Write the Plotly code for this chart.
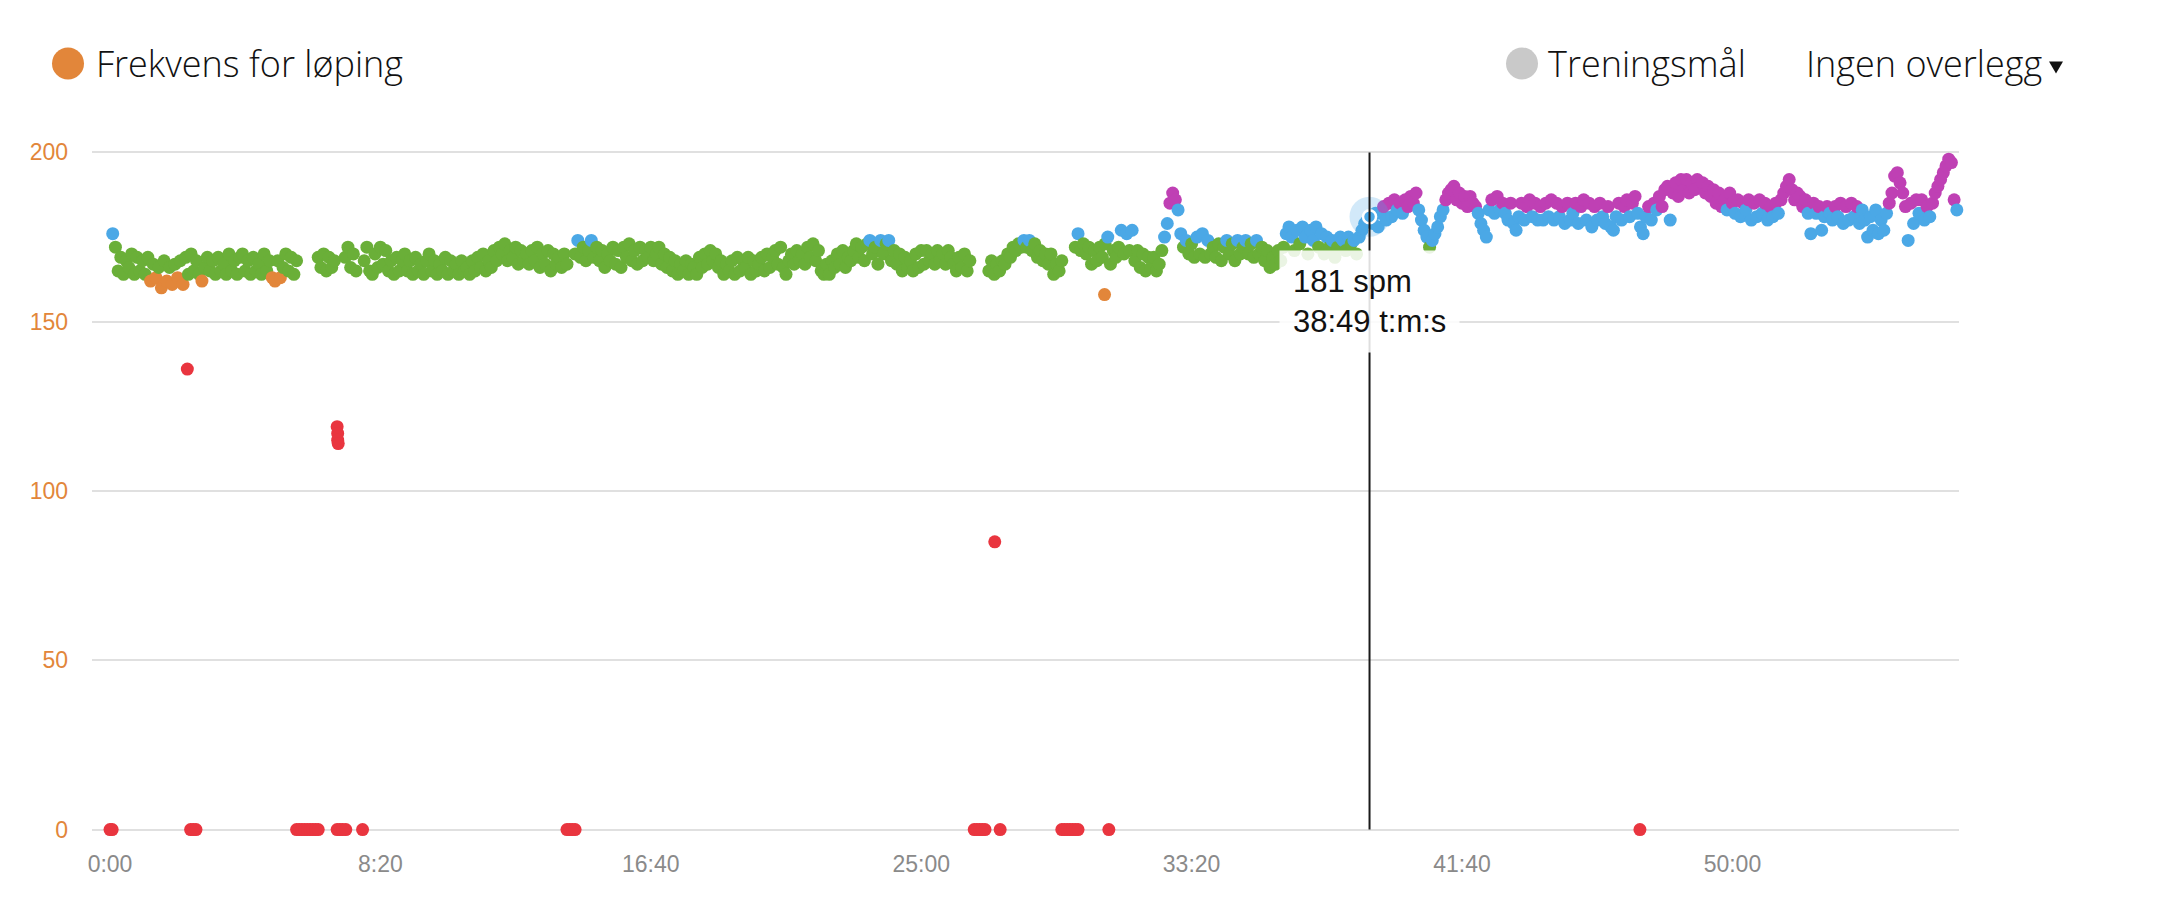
import plotly.graph_objects as go

# ---------------- data ----------------
SAMPLE_STEP = 5  # seconds between cadence samples (spm)

# minutes 0-9  (t = 5 .. 600 s)
cad_00_10 = [
    176, 172, 165, 169, 164, 168, 166, 170, 164, 169, 165, 168,
    164, 169, 162, 167, 163, 166, 160, 168, 162, 166, 161, 167,
    163, 168, 161, 169, 164, 170, 165, 168, 164, 162, 166, 169,
    165, 168, 164, 169, 165, 167, 164, 170, 165, 168, 164, 169,
    170, 165, 168, 164, 169, 165, 167, 164, 170, 165, 168, 163,
    162, 168, 163, 166, 170, 165, 169, 164, 168, None, None, None,
    None, None, None, None, 169, 166, 170, 165, 169, 166, 168, None,
    None, None, 169, 172, 166, 170, 165, None, None, 168, 172, 165,
    164, 170, 166, 172, 167, 171, 165, 168, 164, 169, 165, 168,
    170, 165, 168, 164, 169, 165, 167, 164, 168, 170, 165, 168,
]
# minutes 10-19 (t = 605 .. 1200 s)
cad_10_20 = [
    164, 167, 165, 169, 164, 168, 165, 167, 164, 168, 165, 166,
    164, 168, 165, 169, 166, 170, 165, 168, 166, 171, 168, 172,
    170, 173, 168, 171, 169, 172, 167, 171, 168, 170, 167, 171,
    168, 172, 166, 170, 167, 171, 165, 170, 167, 169, 166, 170,
    167, None, None, 170, 174, 169, 172, 168, 171, 174, 169, 172,
    168, 171, 166, 170, 168, 172, 167, 171, 166, 172, 169, 173,
    168, 171, 167, 172, 168, 171, 169, 172, 168, 170, 172, 167,
    170, 166, 169, 165, 168, 164, 167, 165, 168, 164, 167, 166,
    164, 169, 166, 170, 167, 171, 168, 170, 166, 168, 164, 167,
    165, 168, 164, 169, 165, 168, 166, 169, 164, 168, 165, 167,
]
# minutes 20-29 (t = 1205 .. 1800 s)
cad_20_30 = [
    169, 165, 170, 166, 169, 171, 167, 172, 166, 164, 168, 170,
    167, 171, 168, 170, 167, 172, 169, 173, 168, 171, 165, 164,
    167, 164, 168, 166, 170, 167, 171, 166, 169, 168, 171, 173,
    169, 172, 168, 173, 174, 170, 172, 167, 174, 170, 173, 174,
    168, 171, 167, 170, 165, 169, 166, 168, 165, 170, 166, 171,
    167, 171, 168, 170, 167, 171, 168, 170, 167, 171, 169, 167,
    165, 169, 166, 170, 165, 168, None, None, None, None, None, None,
    165, 168, 164, 167, 165, 168, 167, 170, 169, 172, 171, 173,
    172, 174, 172, 174, 171, 173, 169, 171, 168, 170, 167, 170,
    164, 167, 165, 168, None, None, None, None, 172, 176, 171, 173,
]
# minutes 30-39 (t = 1805 .. 2400 s)
cad_30_40 = [
    170, 172, 167, 171, 168, 172, 169, 173, 175, 167, 171, 169,
    172, 177, 170, 176, 171, 177, 168, 171, 166, 170, 165, 169,
    166, 169, 165, 167, 171, 175, 179, 185, 188, 186, 183, 176,
    172, 174, 170, 173, 169, 175, 170, 176, 169, 174, 170, 172,
    169, 173, 168, 172, 174, 170, 173, 168, 174, 170, 172, 174,
    170, 173, 169, 174, 170, 172, 168, 171, 166, 169, 167, 171,
    168, 172, 176, 178, 175, 171, 177, 173, 178, 175, 170, 177,
    174, 178, 172, 176, 170, 175, 172, 174, 169, 172, 175, 174,
    171, 175, 173, 174, 170, 175, 177, 179, 180, 181, 179, 182,
    178, 182, 184, 180, 185, 181, 186, 183, 185, 182, 186, 184,
]
# minutes 40-49 (t = 2405 .. 3000 s)
cad_40_50 = [
    187, 185, 188, 183, 180, 177, 175, 172, 174, 176, 178, 181,
    183, 186, 188, 189, 190, 186, 188, 185, 187, 184, 187, 185,
    184, 182, 179, 177, 175, 183, 186, 182, 187, 183, 185, 182,
    180, 185, 179, 177, 181, 185, 180, 184, 186, 181, 185, 180,
    184, 180, 185, 181, 186, 180, 185, 181, 184, 179, 185, 180,
    182, 185, 179, 184, 186, 180, 185, 178, 184, 180, 185, 181,
    179, 184, 178, 177, 181, 185, 180, 184, 186, 181, 185, 187,
    182, 178, 176, 181, 184, 180, 185, 183, 187, 184, 189, 190,
    180, 188, 191, 187, 192, 189, 192, 188, 191, 189, 192, 190,
    191, 188, 190, 187, 189, 185, 188, 184, 186, 183, 188, 185,
]
# minutes 50-56 (t = 3005 .. 3420 s)
cad_50_57 = [
    182, 186, 181, 185, 183, 186, 180, 185, 181, 186, 182, 185,
    180, 184, 181, 185, 182, 186, 188, 190, 192, 189, 186, 188,
    187, 184, 186, 182, 176, 185, 182, 184, 177, 181, 184, 182,
    180, 184, 181, 185, 179, 184, 180, 185, 181, 184, 179, 183,
    180, 175, 181, 177, 183, 176, 180, 177, 182, 185, 188, 193,
    194, 191, 188, 184, 174, 185, 179, 186, 182, 186, 180, 184,
    181, 185, 188, 190, 192, 194, 196, 198, 197, 186, 183, 181,
]
chunk_starts = [0, 600, 1200, 1800, 2400, 3000]  # seconds

# stops / outliers (time in s, cadence in spm)
low_t = [0, 4, 143, 149, 154, 159,
         345, 350, 355, 360, 365, 370, 375, 380, 385,
         420, 421, 421, 422, 420, 425, 430, 436, 467,
         845, 850, 855, 860,
         1598, 1603, 1608, 1613, 1618, 1636, 1646,
         1760, 1765, 1770, 1775, 1780, 1785, 1790,
         1839, 1847, 2829]
low_v = [0, 0, 136, 0, 0, 0,
         0, 0, 0, 0, 0, 0, 0, 0, 0,
         119, 117, 115, 114, 0, 0, 0, 0, 0,
         0, 0, 0, 0,
         0, 0, 0, 0, 0, 85, 0,
         0, 0, 0, 0, 0, 0, 0,
         158, 0, 0]

# hovered sample
hover_t = 2329
hover_v = 181
hover_label = ["181 spm", "38:49 t:m:s"]

# zones
zone_bounds = [153, 164, 174, 184]
zone_colors = ["#E9353F", "#E2863A", "#6AAF38", "#4BA8E6", "#BF40B4"]

x_tickvals = [0, 500, 1000, 1500, 2000, 2500, 3000]
x_ticktext = ["0:00", "8:20", "16:40", "25:00", "33:20", "41:40", "50:00"]
y_tickvals = [0, 50, 100, 150, 200]

legend_series = "Frekvens for løping"
legend_goal = "Treningsmål"
overlay_text = "Ingen overlegg"

# ---------------- build ----------------
chunks = [cad_00_10, cad_10_20, cad_20_30, cad_30_40, cad_40_50, cad_50_57]
ts, vs = [], []
for start, vals in zip(chunk_starts, chunks):
    for i, v in enumerate(vals):
        if v is None:
            continue
        ts.append(start + SAMPLE_STEP * (i + 1))
        vs.append(v)
ts = low_t + ts
vs = low_v + vs


def zone_color(v):
    idx = sum(1 for b in zone_bounds if v >= b)
    return zone_colors[idx]


colors = [zone_color(v) for v in vs]

W, H = 2160, 914
ML, MR, MT, MB = 92, 201, 149.4, 81.3
PW, PH = W - ML - MR, H - MT - MB


def px_x(p):
    return (p - ML) / PW


def px_y(p):
    return (H - MB - p) / PH


fig = go.Figure()
fig.add_trace(go.Scatter(
    x=ts, y=vs, mode="markers",
    marker=dict(size=13, color=colors, line=dict(width=0)),
    cliponaxis=False, hoverinfo="skip",
))
# hover halo + highlighted point
fig.add_trace(go.Scatter(
    x=[hover_t], y=[hover_v], mode="markers",
    marker=dict(size=40, color="rgba(75,168,230,0.25)", line=dict(width=0)),
    cliponaxis=False, hoverinfo="skip",
))
fig.add_trace(go.Scatter(
    x=[hover_t], y=[hover_v], mode="markers",
    marker=dict(size=13, color=zone_color(hover_v), line=dict(width=2.5, color="white")),
    cliponaxis=False, hoverinfo="skip",
))

shapes = [
    dict(type="line", xref="x", yref="y", x0=hover_t, x1=hover_t, y0=0, y1=200,
         line=dict(color="#1a1a1a", width=2), layer="above"),
    dict(type="circle", xref="paper", yref="paper", xsizemode="pixel", ysizemode="pixel",
         xanchor=px_x(68), yanchor=px_y(64), x0=-16, x1=16, y0=-16, y1=16,
         fillcolor="#E2863A", line=dict(width=0)),
    dict(type="circle", xref="paper", yref="paper", xsizemode="pixel", ysizemode="pixel",
         xanchor=px_x(1522), yanchor=px_y(64), x0=-16, x1=16, y0=-16, y1=16,
         fillcolor="#C9C9C9", line=dict(width=0)),
    dict(type="path", xref="paper", yref="paper", xsizemode="pixel", ysizemode="pixel",
         xanchor=px_x(2056), yanchor=px_y(68), path="M -7,6 L 7,6 L 0,-6 Z",
         fillcolor="#111111", line=dict(width=0)),
]

legend_font = dict(family="Open Sans, Noto Sans, sans-serif", size=36, color="#111111", weight=300)
annotations = [
    dict(xref="paper", yref="paper", x=px_x(94), y=px_y(64), text=legend_series,
         showarrow=False, xanchor="left", yanchor="middle", font=legend_font),
    dict(xref="paper", yref="paper", x=px_x(1546), y=px_y(64), text=legend_goal,
         showarrow=False, xanchor="left", yanchor="middle", font=legend_font),
    dict(xref="paper", yref="paper", x=px_x(1804), y=px_y(64), text=overlay_text,
         showarrow=False, xanchor="left", yanchor="middle", font=legend_font),
    dict(xref="x", yref="y", x=hover_t, y=hover_v, xshift=-91, yshift=-33,
         text="<br>".join(hover_label), showarrow=False, xanchor="left", yanchor="top",
         align="left", bgcolor="rgba(255,255,255,0.86)", borderpad=13,
         font=dict(family="Liberation Sans, Arial, Helvetica, sans-serif", size=31, color="#111111")),
]

fig.update_layout(
    width=W, height=H,
    margin=dict(l=ML, r=MR, t=MT, b=MB, pad=0),
    paper_bgcolor="white", plot_bgcolor="white",
    showlegend=False,
    shapes=shapes, annotations=annotations,
    xaxis=dict(range=[-33.3, 3419], showgrid=False, zeroline=False, showline=False,
               tickvals=x_tickvals, ticktext=x_ticktext, ticks="",
               ticklabelstandoff=15,
               tickfont=dict(family="Liberation Sans, Arial, Helvetica, sans-serif", size=23, color="#8a8a8a")),
    yaxis=dict(range=[-1, 201], showgrid=True, gridcolor="#e0e0e0", gridwidth=2,
               zeroline=False, showline=False, tickvals=y_tickvals, ticks="",
               ticklabelstandoff=23,
               tickfont=dict(family="Liberation Sans, Arial, Helvetica, sans-serif", size=23, color="#E2863A")),
)

fig.write_html("out.html", config={"displayModeBar": False})
